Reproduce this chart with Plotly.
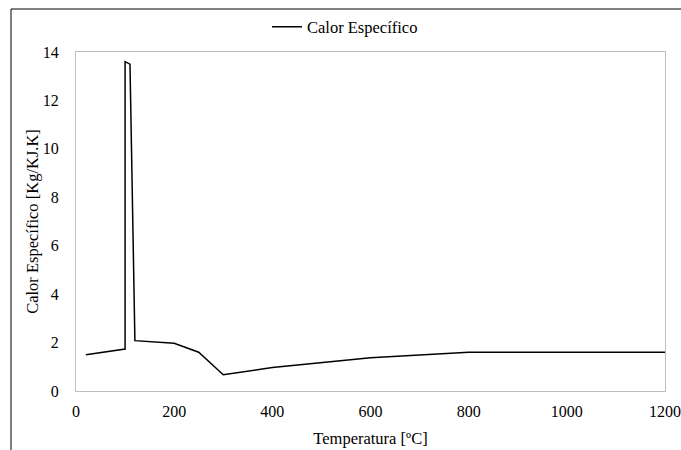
import plotly.graph_objects as go

temperatura = [20, 100, 100, 110, 120, 200, 250, 300, 400, 600, 800, 1200]
calor_especifico = [1.5, 1.73, 13.6, 13.5, 2.08, 1.97, 1.6, 0.67, 0.97, 1.37, 1.6, 1.6]
x_ticks = [0, 200, 400, 600, 800, 1000, 1200]
y_ticks = [0, 2, 4, 6, 8, 10, 12, 14]

W, H = 681, 450
# plot area in window pixels: left 76, right 665, top 52, bottom 391
L, R, T, B = 76, 681 - 665, 52, 450 - 391
pw, ph = W - L - R, H - T - B

def px_x(p):  # window pixel -> paper x
    return (p - L) / pw

def px_y(p):  # window pixel -> paper y
    return (H - B - p) / ph

FAM = "Liberation Serif"
font = dict(family=FAM, size=16.5, color="#000000")
tfont = dict(family=FAM, size=16, color="#000000")

fig = go.Figure()
fig.add_trace(go.Scatter(
    x=temperatura, y=calor_especifico, mode="lines",
    name="Calor Específico",
    line=dict(color="#000000", width=1.5),
))

fig.update_layout(
    width=W, height=H,
    margin=dict(l=L, r=R, t=T, b=B, autoexpand=False),
    paper_bgcolor="white", plot_bgcolor="white",
    font=font,
    showlegend=True,
    legend=dict(orientation="h", x=px_x(267), xanchor="left",
                yref="container", y=1 - 27 / H, yanchor="middle",
                font=font, bgcolor="rgba(0,0,0,0)"),
    xaxis=dict(range=[0, 1200], tickvals=x_ticks, ticks="", showgrid=False, zeroline=False,
               showline=True, linecolor="#bfbfbf", linewidth=1, mirror=True,
               automargin=False, ticklabelstandoff=6,
               title=dict(text="Temperatura [ºC]", font=font, standoff=13),
               tickfont=tfont),
    yaxis=dict(range=[0, 14], tickvals=y_ticks, ticks="", showgrid=False, zeroline=False,
               showline=True, linecolor="#bfbfbf", linewidth=1, mirror=True,
               automargin=False, ticklabelstandoff=13,
               title=dict(text="Calor Específico [Kg/KJ.K]", font=font, standoff=0),
               tickfont=tfont),
    shapes=[
        dict(type="line", xref="paper", yref="paper", x0=px_x(11), x1=px_x(685),
             y0=px_y(9), y1=px_y(9), line=dict(color="#000000", width=1)),
        dict(type="line", xref="paper", yref="paper", x0=px_x(11), x1=px_x(11),
             y0=px_y(9), y1=px_y(455), line=dict(color="#000000", width=1)),
    ],
)

# remove the browser's default 8px body margin so the figure fills the window
fig.write_html(
    "out.html",
    config={"displayModeBar": False},
    post_script="document.body.style.margin='0';document.body.style.overflow='hidden';",
)
